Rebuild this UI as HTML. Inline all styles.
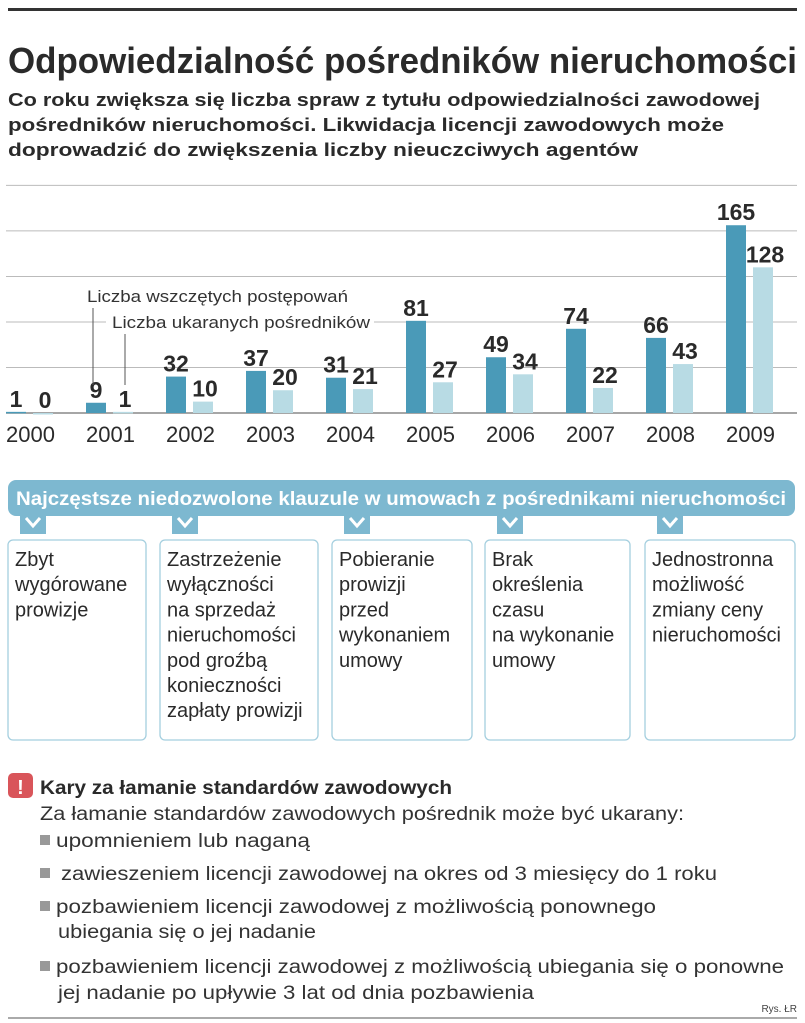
<!DOCTYPE html>
<html><head><meta charset="utf-8"><style>
html,body{margin:0;padding:0;background:#fff;}
svg{display:block;font-family:"Liberation Sans",sans-serif;}
</style></head><body>
<svg id="root" width="805" height="1023" viewBox="0 0 805 1023">
<rect x="8" y="8" width="789" height="3" fill="#333"/>
<text x="8" y="73" font-size="36" font-weight="bold" fill="#2a2a2a" textLength="789" lengthAdjust="spacingAndGlyphs">Odpowiedzialność pośredników nieruchomości</text>
<g font-size="18" font-weight="bold" fill="#2a2a2a">
<text x="8" y="106" textLength="752" lengthAdjust="spacingAndGlyphs">Co roku zwiększa się liczba spraw z tytułu odpowiedzialności zawodowej</text>
<text x="8" y="131" textLength="716" lengthAdjust="spacingAndGlyphs">pośredników nieruchomości. Likwidacja licencji zawodowych może</text>
<text x="8" y="156" textLength="630" lengthAdjust="spacingAndGlyphs">doprowadzić do zwiększenia liczby nieuczciwych agentów</text>
</g>
<g id="chart"></g>
<g id="legend">
<rect x="84" y="285" width="268" height="22" fill="#fff"/>
<rect x="106" y="311" width="268" height="22" fill="#fff"/>
<text x="87" y="302" font-size="17" fill="#333" textLength="261" lengthAdjust="spacingAndGlyphs">Liczba wszczętych postępowań</text>
<text x="112" y="328" font-size="17" fill="#333" textLength="258" lengthAdjust="spacingAndGlyphs">Liczba ukaranych pośredników</text>
<line x1="93" y1="308" x2="93" y2="385" stroke="#555" stroke-width="1"/>
<line x1="125" y1="334" x2="125" y2="385" stroke="#555" stroke-width="1"/>
</g>
<g>
<rect x="8" y="480" width="787" height="36" rx="8" fill="#7db8d0"/>
<text x="16" y="505" font-size="19" font-weight="bold" fill="#fff" textLength="770" lengthAdjust="spacingAndGlyphs">Najczęstsze niedozwolone klauzule w umowach z pośrednikami nieruchomości</text>
<g id="tabs"></g>
<g id="boxes" font-size="20" fill="#2a2a2a"></g>
</g>
<g>
<rect x="8" y="773" width="25" height="25" rx="5" fill="#d9555a"/>
<text x="20.5" y="794" font-size="20" font-weight="bold" fill="#fff" text-anchor="middle">!</text>
<text x="40" y="794" font-size="19" font-weight="bold" fill="#2a2a2a" textLength="412" lengthAdjust="spacingAndGlyphs">Kary za łamanie standardów zawodowych</text>
<g font-size="19" fill="#333">
<text x="40" y="820" textLength="644" lengthAdjust="spacingAndGlyphs">Za łamanie standardów zawodowych pośrednik może być ukarany:</text>
<rect x="40" y="835" width="10" height="10" fill="#999"/>
<text x="56" y="847" textLength="254" lengthAdjust="spacingAndGlyphs">upomnieniem lub naganą</text>
<rect x="40" y="868" width="10" height="10" fill="#999"/>
<text x="61" y="880" textLength="656" lengthAdjust="spacingAndGlyphs">zawieszeniem licencji zawodowej na okres od 3 miesięcy do 1 roku</text>
<rect x="40" y="901" width="10" height="10" fill="#999"/>
<text x="56" y="913" textLength="600" lengthAdjust="spacingAndGlyphs">pozbawieniem licencji zawodowej z możliwością ponownego</text>
<text x="58" y="938" textLength="258" lengthAdjust="spacingAndGlyphs">ubiegania się o jej nadanie</text>
<rect x="40" y="961" width="10" height="10" fill="#999"/>
<text x="56" y="973" textLength="728" lengthAdjust="spacingAndGlyphs">pozbawieniem licencji zawodowej z możliwością ubiegania się o ponowne</text>
<text x="58" y="999" textLength="476" lengthAdjust="spacingAndGlyphs">jej nadanie po upływie 3 lat od dnia pozbawienia</text>
</g>
<text x="797" y="1012" font-size="10" fill="#444" text-anchor="end">Rys. ŁR</text>
<rect x="8" y="1017" width="789" height="2" fill="#aaa"/>
</g>
</svg>
<script>
const years = ["2000","2001","2002","2003","2004","2005","2006","2007","2008","2009"];
const initiated = [1,9,32,37,31,81,49,74,66,165];
const punished = [0,1,10,20,21,27,34,22,43,128];
const gridTicks = [0,40,80,120,160,200];
const clauseTexts = [
 ["Zbyt","wygórowane","prowizje"],
 ["Zastrzeżenie","wyłączności","na sprzedaż","nieruchomości","pod groźbą","konieczności","zapłaty prowizji"],
 ["Pobieranie","prowizji","przed","wykonaniem","umowy"],
 ["Brak","określenia","czasu","na wykonanie","umowy"],
 ["Jednostronna","możliwość","zmiany ceny","nieruchomości"]
];
const NS="http://www.w3.org/2000/svg";
function mk(t,a,p){const e=document.createElementNS(NS,t);for(const k in a)e.setAttribute(k,a[k]);p.appendChild(e);return e;}
const chart=document.getElementById('chart');
const base=413, scale=1.138;
const y=v=>base-v*scale;
const gx=i=>6+i*80;
gridTicks.forEach(t=>{
 const l=mk('line',{x1:6,x2:797,y1:y(t),y2:y(t),stroke:t===0?'#888':'#bbb','stroke-width':t===0?1.5:1},chart);
 
 
});
chart.parentNode.insertBefore(document.getElementById('legend'),chart.nextSibling);
years.forEach((yr,i)=>{
 const x=gx(i);
 const b1=mk('rect',{x:x,y:y(initiated[i]),width:20,height:Math.max(initiated[i]*scale,1.5),fill:'#4a9ab8'},chart);
 
 
 const b2=mk('rect',{x:x+27,y:y(punished[i]),width:20,height:Math.max(punished[i]*scale,1.5),fill:'#b8dbe4'},chart);
 
 
 const l1=mk('text',{x:x+10,y:y(initiated[i])-5,'font-size':23,'font-weight':'bold',fill:'#2a2a2a','text-anchor':'middle'},chart);
 l1.textContent=initiated[i];
 
 
 const l2=mk('text',{x:x+39,y:y(punished[i])-5,'font-size':23,'font-weight':'bold',fill:'#2a2a2a','text-anchor':'middle'},chart);
 l2.textContent=punished[i];
 
 
 const yl=mk('text',{x:x,y:442,'font-size':22,fill:'#2a2a2a'},chart);
 yl.textContent=yr;
 
 
});
const boxX=[8,160,332,485,645], boxW=[138,158,140,145,150];
const tabs=document.getElementById('tabs'), boxes=document.getElementById('boxes');
clauseTexts.forEach((lines,i)=>{
 const bx=boxX[i], tx=bx+12;
 mk('rect',{x:tx,y:510,width:26,height:24,fill:'#7db8d0'},tabs);
 mk('polyline',{points:`${tx+6},518 ${tx+13},526 ${tx+20},518`,fill:'none',stroke:'#fff','stroke-width':3},tabs);
 const r=mk('rect',{x:bx,y:540,width:boxW[i],height:200,rx:5,fill:'#fff',stroke:'#a5cfdf','stroke-width':1.3},boxes);
 
 
 lines.forEach((s,j)=>{
  const t=mk('text',{x:bx+7,y:566+j*25.2},boxes);
  t.textContent=s;
 });
});
</script>
</body></html>
